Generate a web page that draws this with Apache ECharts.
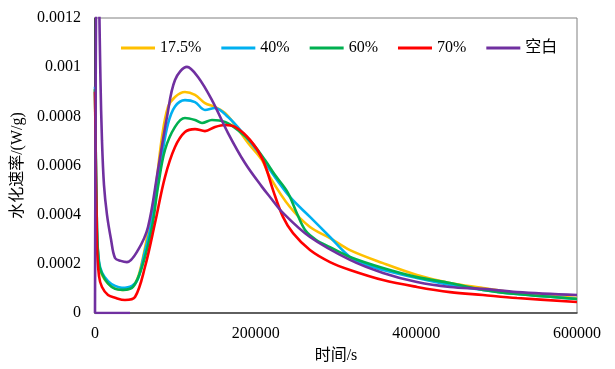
<!DOCTYPE html>
<html>
<head>
<meta charset="utf-8">
<script src="https://cdn.jsdelivr.net/npm/echarts@6.0.0/dist/echarts.min.js"></script>
<style>html,body{margin:0;padding:0;background:#fff}#c{width:615px;height:369px}</style>
</head>
<body>
<div id="c"></div>
<script>
var seriesNames = ['17.5%', '40%', '60%', '70%', '空白'];
var seriesColors = ['#FFC000', '#00B0F0', '#00B050', '#FF0000', '#7030A0'];

var data175 = [[0,0.00091],[2500,0.00033],[5000,0.0002],[8700,0.000155],[16200,0.00012],[25000,0.0001],[33600,0.000094],[46100,0.000106],[53500,0.000146],[60000,0.00023],[66000,0.00033],[74700,0.000488],[83400,0.000716],[90900,0.000838],[99600,0.000879],[112000,0.000899],[124500,0.000887],[136900,0.000854],[149400,0.000838],[161800,0.000814],[174300,0.000765],[190500,0.000692],[207900,0.000622],[217800,0.000553],[242700,0.000431],[267600,0.00035],[292500,0.000305],[317400,0.000256],[358500,0.000203],[400800,0.000155],[441900,0.000122],[483000,0.000102],[525300,0.000081],[600000,0.000061]];
var data40 = [[0,0.00092],[2500,0.00034],[5000,0.00021],[8700,0.000165],[16200,0.00013],[25000,0.00011],[33600,0.000102],[46100,0.00011],[53500,0.00014],[62000,0.00025],[68000,0.00033],[75000,0.00046],[83400,0.00064],[90900,0.00077],[99600,0.00084],[112000,0.000866],[124500,0.000858],[136900,0.000826],[149400,0.000834],[165600,0.000797],[183000,0.000736],[207900,0.000635],[217800,0.000582],[242700,0.000472],[267600,0.000391],[292500,0.000309],[317400,0.000228],[338600,0.000195],[358500,0.000175],[400800,0.000142],[441900,0.000114],[483000,0.000094],[525300,0.000077],[600000,0.000057]];
var data60 = [[0,0.00091],[2500,0.00033],[5000,0.0002],[8700,0.00016],[16200,0.00012],[25000,0.000098],[34900,0.000094],[47300,0.000106],[58500,0.000187],[71000,0.00035],[78400,0.000513],[87100,0.000663],[99600,0.000757],[112000,0.000793],[124500,0.000785],[133200,0.000773],[145600,0.000785],[161800,0.000777],[178000,0.000744],[195400,0.000692],[211600,0.000622],[224100,0.000561],[240000,0.00049],[252000,0.0004],[262000,0.000335],[275000,0.000298],[292500,0.000268],[317400,0.000228],[358500,0.000183],[400800,0.000146],[441900,0.000122],[483000,0.000094],[525300,0.000077],[600000,0.000057]];
var data70 = [[0,0.0009],[2500,0.00028],[5000,0.00015],[8700,0.000106],[16200,0.000073],[25000,0.000062],[37300,0.000053],[49800,0.000065],[62200,0.000187],[74700,0.000366],[87100,0.000553],[99600,0.000675],[112000,0.000736],[124500,0.000748],[136900,0.00074],[149400,0.000757],[161800,0.000765],[174300,0.000757],[193000,0.000704],[209100,0.000622],[221600,0.0005],[234000,0.000391],[246500,0.000325],[267600,0.000256],[292500,0.000207],[317400,0.000175],[358500,0.000134],[400800,0.000106],[441900,0.000085],[483000,0.000073],[525300,0.000061],[600000,0.000045]];
var dataBlank = [[0,0],[2800,0.0017],[6800,0.00095],[8700,0.0007],[11200,0.00052],[14900,0.0004],[19900,0.0003],[24900,0.000224],[32000,0.000212],[39800,0.000207],[53500,0.000256],[66000,0.00035],[78400,0.000582],[89600,0.000797],[99600,0.000948],[114500,0.001001],[128200,0.00096],[145600,0.000866],[165600,0.000732],[186700,0.00061],[207900,0.000513],[217800,0.000472],[234000,0.000407],[267600,0.000309],[317400,0.000216],[358500,0.000163],[400800,0.000126],[441900,0.000106],[483000,0.000098],[525300,0.000085],[600000,0.000073]];
var dataBlankBase = [[0,0],[43600,0]];

var xTicks = [0, 200000, 400000, 600000];
var yTicks = [0, 0.0002, 0.0004, 0.0006, 0.0008, 0.001, 0.0012];

var allData = [data175, data40, data60, data70, dataBlank];
var serif = '"Liberation Serif", "Times New Roman", "Noto Sans CJK SC", serif';

var series = allData.map(function (d, i) {
  return {
    name: seriesNames[i], type: 'line', data: d, smooth: 0.35,
    symbol: 'none', clip: true,
    lineStyle: { color: seriesColors[i], width: 2.6 },
    itemStyle: { color: seriesColors[i] },
    z: 2 + i
  };
});
series.push({
  name: '空白', type: 'line', data: dataBlankBase, smooth: false, symbol: 'none',
  lineStyle: { color: seriesColors[4], width: 2.6 }, itemStyle: { color: seriesColors[4] }, z: 7
});

var chart = echarts.init(document.getElementById('c'), null, { renderer: 'canvas' });
chart.setOption({
  animation: false,
  backgroundColor: '#fff',
  grid: { left: 95, top: 18, right: 38, bottom: 56, show: true, borderColor: '#808080', borderWidth: 1, backgroundColor: 'transparent' },
  legend: {
    data: seriesNames.map(function (n) { return { name: n, icon: 'rect' }; }),
    left: 116, top: 35, itemWidth: 34, itemHeight: 3, itemGap: 20,
    textStyle: { fontFamily: serif, fontSize: 16, color: '#000' }
  },
  xAxis: {
    type: 'value', min: xTicks[0], max: xTicks[xTicks.length - 1], interval: xTicks[1] - xTicks[0],
    name: '时间/s', nameLocation: 'middle', nameGap: 35,
    nameTextStyle: { fontFamily: serif, fontSize: 16, color: '#000' },
    axisLine: { show: true, lineStyle: { color: '#404040', width: 1.5 } },
    axisTick: { show: false },
    splitLine: { show: false },
    axisLabel: { fontFamily: serif, fontSize: 16, color: '#000', margin: 13, formatter: function (v) { return String(v); } }
  },
  yAxis: {
    type: 'value', min: yTicks[0], max: yTicks[yTicks.length - 1], interval: 0.0002,
    name: '水化速率/(W/g)', nameLocation: 'middle', nameGap: 68, nameRotate: 90,
    nameTextStyle: { fontFamily: serif, fontSize: 16, color: '#000' },
    axisLine: { show: true, lineStyle: { color: '#202020', width: 1.5 } },
    axisTick: { show: false },
    splitLine: { show: false },
    axisLabel: { fontFamily: serif, fontSize: 16, color: '#000', margin: 14, formatter: function (v) { return String(+v.toFixed(4)); } }
  },
  series: series
});
</script>
</body>
</html>
